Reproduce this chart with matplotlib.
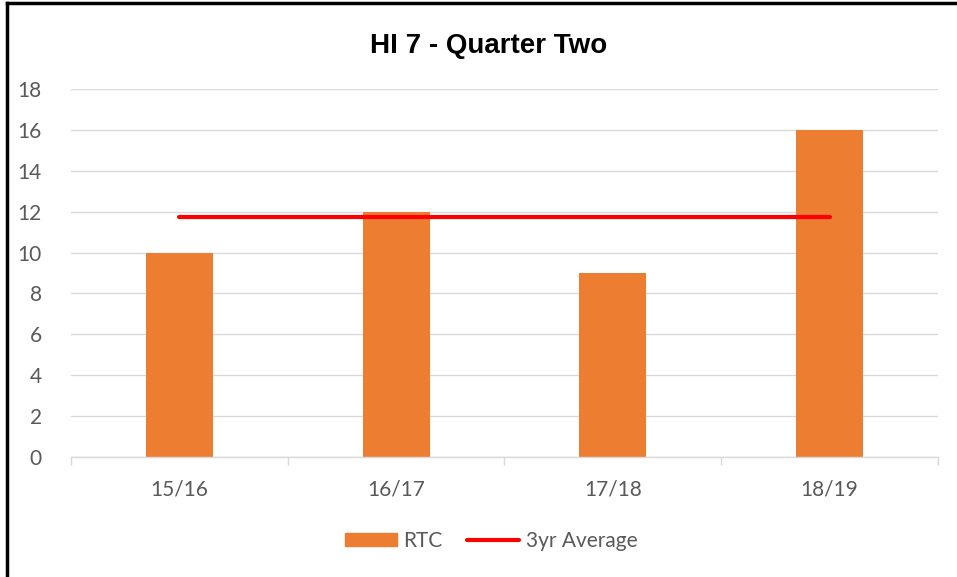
import matplotlib
matplotlib.use("Agg")
import matplotlib.pyplot as plt
from matplotlib.patches import Patch
from matplotlib.lines import Line2D
import numpy as np

categories = ["15/16", "16/17", "17/18", "18/19"]
rtc = [10, 12, 9, 16]
avg_3yr = [11.75, 11.75, 11.75, 11.75]
yticks = [0, 2, 4, 6, 8, 10, 12, 14, 16, 18]
title = "HI 7 - Quarter Two"

fig = plt.figure(figsize=(9.57, 5.77), dpi=100)
ax = fig.add_axes([71/957, (577-457)/577, 867/957, 368/577])

x = np.arange(len(categories))
ax.bar(x, rtc, width=0.31, color="#ED7D31", zorder=2)
ax.plot(x, avg_3yr, color="#FF0000", lw=3, solid_capstyle="round", zorder=3)

ax.set_xlim(-0.5, len(categories) - 0.5)
ax.set_ylim(0, 18)
ax.set_yticks(yticks)
ax.set_yticklabels([str(v) for v in yticks])
ax.grid(axis="y", color="#D9D9D9", lw=1, zorder=0)
for s in ["top", "right", "left"]:
    ax.spines[s].set_visible(False)
ax.spines["bottom"].set_color("#D9D9D9")
ax.spines["bottom"].set_linewidth(1)

ax.set_xticks(x)
ax.set_xticklabels(categories)
ax.tick_params(axis="x", length=0, pad=16, labelsize=15, labelcolor="#595959")
ax.set_xticks(np.arange(len(categories) + 1) - 0.5, minor=True)
ax.tick_params(axis="x", which="minor", length=6, color="#D9D9D9", width=1)
ax.tick_params(axis="y", length=0, pad=21, labelsize=15, labelcolor="#595959")
for lab in ax.get_xticklabels() + ax.get_yticklabels():
    lab.set_family(["Lato", "DejaVu Sans"])

fig.text(489/957, 1 - 46/577, title, ha="center", va="center",
         fontsize=20, fontweight="bold", family=["Liberation Sans", "DejaVu Sans"])

handles = [Patch(color="#ED7D31", label="RTC"),
           Line2D([0], [0], color="#FF0000", lw=3, solid_capstyle="round", label="3yr Average")]
leg = fig.legend(handles=handles, loc="center", bbox_to_anchor=(491/957, 1 - 541/577),
                 ncol=2, frameon=False, handlelength=2.5, handleheight=0.6,
                 handletextpad=0.3, columnspacing=1.2,
                 prop={"family": ["Lato", "DejaVu Sans"], "size": 15})
for t in leg.get_texts():
    t.set_color("#595959")

# Border (left and top visible)
fig.add_artist(Line2D([7/957, 7/957], [0, 1 - 3/577], transform=fig.transFigure,
                      color="black", lw=2.5))
fig.add_artist(Line2D([7/957, 1], [1 - 3/577, 1 - 3/577], transform=fig.transFigure,
                      color="black", lw=2.5))

fig.savefig("out.png", dpi=100)
